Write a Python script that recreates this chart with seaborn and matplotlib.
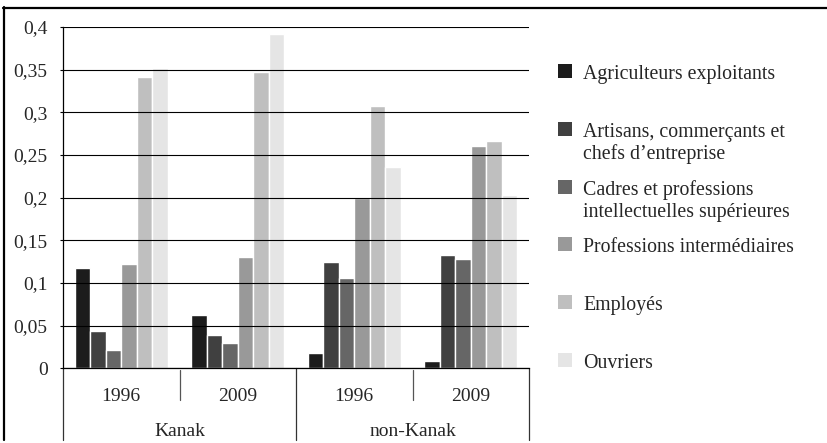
import pandas as pd
import numpy as np
import matplotlib.pyplot as plt
import seaborn as sns
from matplotlib.lines import Line2D
from matplotlib.patches import Rectangle

# Data
groups = ['Kanak', 'non-Kanak']
years = ['1996', '2009']
categories = ['Agriculteurs exploitants',
              'Artisans, commerçants et\nchefs d\u2019entreprise',
              'Cadres et professions\nintellectuelles supérieures',
              'Professions intermédiaires',
              'Employés',
              'Ouvriers']
kanak_1996 = [0.118, 0.044, 0.021, 0.122, 0.342, 0.352]
kanak_2009 = [0.063, 0.039, 0.030, 0.131, 0.347, 0.392]
nonkanak_1996 = [0.018, 0.125, 0.106, 0.200, 0.308, 0.236]
nonkanak_2009 = [0.009, 0.133, 0.128, 0.260, 0.266, 0.203]
colors = ['#1c1c1c', '#404040', '#666666', '#999999', '#bfbfbf', '#e5e5e5']

series = [kanak_1996, kanak_2009, nonkanak_1996, nonkanak_2009]
cols = [f'{g} {y}' for g in groups for y in years]
rows = []
for col, vals in zip(cols, series):
    for cat, v in zip(categories, vals):
        rows.append({'col': col, 'cat': cat, 'value': v})
df = pd.DataFrame(rows)

sns.set_style('white')
plt.rcParams['font.family'] = ['Liberation Serif', 'DejaVu Serif']
plt.rcParams['font.size'] = 14

fig = plt.figure(figsize=(8.27, 4.43), dpi=100)
ax = fig.add_axes([0.0762, 0.1686, 0.5635, 0.7704])

sns.barplot(data=df, x='col', y='value', hue='cat', order=cols, hue_order=categories,
            palette=colors, width=0.8, gap=0, saturation=1, legend=False, ax=ax)

ax.set_xlim(-0.5, 3.5)
ax.set_ylim(0, 0.4)
yt = np.arange(0, 0.41, 0.05)
ax.set_yticks(yt)
ax.set_yticklabels([('%g' % t).replace('.', ',') for t in yt])
ax.set_xticks([])
ax.set_xlabel('')
ax.set_ylabel('')
ax.tick_params(axis='y', length=2, width=0.8, color='black', pad=9, labelsize=14, left=True)
ax.yaxis.grid(True, color='black', lw=0.8)
ax.set_axisbelow(False)
for s in ['top', 'right']:
    ax.spines[s].set_visible(False)
for s in ['left', 'bottom']:
    ax.spines[s].set_color('black')
    ax.spines[s].set_linewidth(0.9)

# multi-level category axis
tr = ax.get_xaxis_transform()
for i, col in enumerate(cols):
    ax.text(i, -0.084, col.split(' ')[-1], transform=tr, ha='center', va='center', fontsize=14)
for j, g in enumerate(groups):
    ax.text(2 * j + 0.5, -0.185, g, transform=tr, ha='center', va='center', fontsize=14)
for x in [0.5, 2.5]:
    ax.plot([x, x], [-0.005, -0.093], transform=tr, color='#555555', lw=0.9, clip_on=False)
for x in [-0.5, 1.5, 3.5]:
    ax.plot([x, x], [0, -0.21], transform=tr, color='#333333', lw=0.9, clip_on=False)

# legend, squares aligned with the first text line
for i, (cat, c) in enumerate(zip(categories, colors)):
    top = 64 + i * 57.8
    fig.add_artist(Rectangle((558 / 827, 1 - (top + 14) / 443), 14 / 827, 14 / 443,
                             transform=fig.transFigure, color=c, lw=0))
    for k, line in enumerate(cat.split('\n')):
        fig.text(583 / 827, 1 - (top + 15 + 22 * k) / 443, line, ha='left', va='baseline',
                 fontsize=14.3)

# outer frame (top and left edges visible)
fig.add_artist(Line2D([3 / 827, 1], [1 - 7.5 / 443, 1 - 7.5 / 443], transform=fig.transFigure,
                      color='black', lw=1.6))
fig.add_artist(Line2D([4 / 827, 4 / 827], [1 - 7 / 443, 1 - 440 / 443], transform=fig.transFigure,
                      color='black', lw=1.6))

fig.savefig('out.png', dpi=100)
